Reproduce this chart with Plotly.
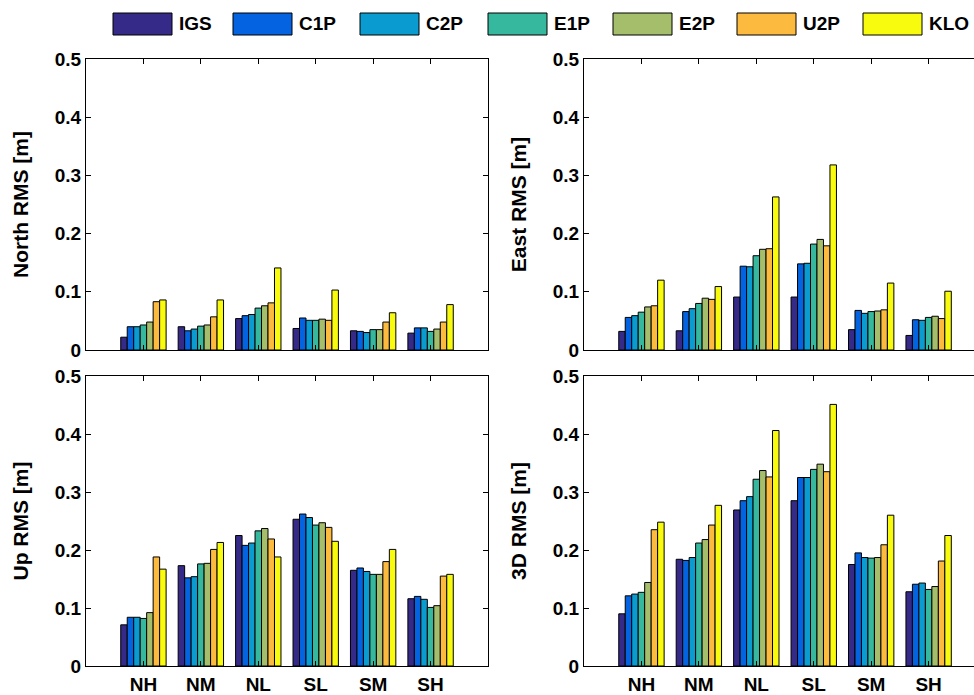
import plotly.graph_objects as go

# ---------------- data ----------------
regions = ["NH", "NM", "NL", "SL", "SM", "SH"]
series = ["IGS", "C1P", "C2P", "E1P", "E2P", "U2P", "KLO"]
colors = ["#352A87", "#0363E1", "#0A9CD0", "#36B89E", "#A5BE6B", "#FCBB3E", "#F9FB0E"]

# values per series (rows in `series` order), per region (columns in `regions` order)
north_rms = [
    [0.022, 0.040, 0.054, 0.037, 0.033, 0.029],
    [0.040, 0.033, 0.059, 0.055, 0.032, 0.038],
    [0.040, 0.036, 0.061, 0.051, 0.030, 0.038],
    [0.043, 0.041, 0.072, 0.051, 0.035, 0.032],
    [0.048, 0.043, 0.076, 0.053, 0.035, 0.036],
    [0.083, 0.057, 0.081, 0.051, 0.048, 0.048],
    [0.086, 0.086, 0.141, 0.103, 0.064, 0.078],
]
east_rms = [
    [0.032, 0.033, 0.091, 0.091, 0.035, 0.025],
    [0.056, 0.066, 0.144, 0.148, 0.068, 0.052],
    [0.059, 0.071, 0.143, 0.149, 0.063, 0.051],
    [0.065, 0.080, 0.162, 0.182, 0.066, 0.056],
    [0.074, 0.089, 0.173, 0.190, 0.067, 0.058],
    [0.076, 0.087, 0.174, 0.179, 0.069, 0.054],
    [0.120, 0.109, 0.263, 0.318, 0.115, 0.101],
]
up_rms = [
    [0.071, 0.173, 0.225, 0.253, 0.165, 0.116],
    [0.084, 0.152, 0.208, 0.262, 0.169, 0.120],
    [0.084, 0.154, 0.212, 0.256, 0.163, 0.115],
    [0.082, 0.176, 0.233, 0.243, 0.158, 0.101],
    [0.092, 0.177, 0.237, 0.247, 0.158, 0.104],
    [0.188, 0.201, 0.219, 0.239, 0.180, 0.155],
    [0.167, 0.213, 0.188, 0.215, 0.201, 0.158],
]
rms_3d = [
    [0.090, 0.184, 0.269, 0.285, 0.175, 0.128],
    [0.121, 0.182, 0.285, 0.325, 0.195, 0.141],
    [0.124, 0.187, 0.292, 0.325, 0.187, 0.143],
    [0.127, 0.212, 0.322, 0.339, 0.186, 0.132],
    [0.144, 0.218, 0.337, 0.348, 0.187, 0.137],
    [0.235, 0.243, 0.326, 0.335, 0.209, 0.181],
    [0.248, 0.277, 0.406, 0.451, 0.260, 0.225],
]
y_tick_vals = [0, 0.1, 0.2, 0.3, 0.4, 0.5]
y_tick_text = ["0", "0.1", "0.2", "0.3", "0.4", "0.5"]

# ---------------- layout helpers ----------------
W, H = 974, 695
FONT = "Arial, Liberation Sans, sans-serif"

def px_x(a, b):
    return [a / W, b / W]

def px_y(top, bottom):
    return [1 - bottom / H, 1 - top / H]

panels = [
    # (values, title, xdomain px, ydomain px, xrange, right_border, show_xlabels)
    (north_rms, "North RMS [m]", (86, 488), (59, 350), [0, 7], True, False),
    (east_rms, "East RMS [m]", (584, 974), (59, 350), [0, 6.79], False, False),
    (up_rms, "Up RMS [m]", (86, 488), (376, 666), [0, 7], True, True),
    (rms_3d, "3D RMS [m]", (584, 974), (376, 666), [0, 6.79], False, True),
]

fig = go.Figure()
xpos = list(range(1, len(regions) + 1))

layout = dict(
    template="none",
    width=W, height=H, autosize=False,
    margin=dict(l=0, r=0, t=0, b=0, pad=0),
    paper_bgcolor="white", plot_bgcolor="white",
    barmode="group", bargap=0.21, bargroupgap=0.0,
    showlegend=False,
    font=dict(family=FONT, color="black", size=19, weight="bold"),
)

for i, (vals, title, xd, yd, xr, rb, showx) in enumerate(panels):
    n = "" if i == 0 else str(i + 1)
    for s, name in enumerate(series):
        fig.add_trace(go.Bar(
            x=xpos, y=vals[s], name=name,
            marker=dict(color=colors[s], line=dict(color="black", width=1)),
            xaxis="x" + n, yaxis="y" + n, offsetgroup=str(s),
        ))
    layout["xaxis" + n] = dict(
        domain=px_x(*xd), range=xr, anchor="y" + n, automargin=False,
        tickvals=xpos, ticktext=regions if showx else [""] * len(regions),
        ticks="inside", ticklen=5, tickcolor="black", tickwidth=1,
        ticklabelstandoff=1,
        showline=True, linecolor="black", linewidth=1, mirror="ticks",
        showgrid=False, zeroline=False, fixedrange=True,
        tickfont=dict(family=FONT, size=19, color="black", weight="bold"),
    )
    layout["yaxis" + n] = dict(
        domain=px_y(*yd), range=[0, 0.5], anchor="x" + n, automargin=False,
        tickvals=y_tick_vals, ticktext=y_tick_text,
        ticks="inside", ticklen=5, tickcolor="black", tickwidth=1,
        showline=True, linecolor="black", linewidth=1,
        mirror="ticks" if rb else False,
        showgrid=False, zeroline=False, fixedrange=True,
        tickfont=dict(family=FONT, size=19, color="black", weight="bold"),
        title=dict(text=title, standoff=20,
                   font=dict(family=FONT, size=21, color="black", weight="bold")),
    )

# ---------------- custom legend (wide MATLAB-style swatches) ----------------
legend_box_left = [113, 233, 360, 488, 613, 737, 863]
shapes = []
annotations = []
for k, name in enumerate(series):
    x0 = legend_box_left[k]
    shapes.append(dict(
        type="rect", xref="paper", yref="paper",
        x0=x0 / W, x1=(x0 + 59) / W, y0=1 - 35 / H, y1=1 - 13 / H,
        fillcolor=colors[k], line=dict(color="black", width=1),
    ))
    annotations.append(dict(
        xref="paper", yref="paper", x=(x0 + 64) / W, y=1 - 24 / H,
        xanchor="left", yanchor="middle", showarrow=False, text=name,
        font=dict(family=FONT, size=19, color="black", weight="bold"),
    ))
layout["shapes"] = shapes
layout["annotations"] = annotations

fig.update_layout(**layout)
fig.write_html(
    "out.html",
    config={"displayModeBar": False},
    post_script="document.body.style.margin='0';document.body.style.overflow='hidden';",
)
